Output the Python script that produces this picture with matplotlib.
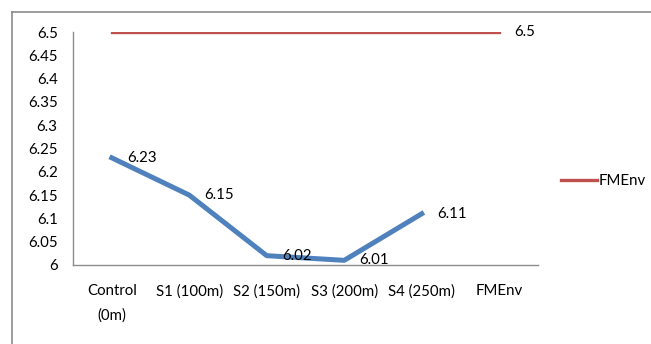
import matplotlib.pyplot as plt
from matplotlib.lines import Line2D

sites = ["Control\n(0m)", "S1 (100m)", "S2 (150m)", "S3 (200m)", "S4 (250m)", "FMEnv"]
site_ph = [6.23, 6.15, 6.02, 6.01, 6.11]
fmenv_limit = [6.5, 6.5, 6.5, 6.5, 6.5, 6.5]
y_ticks = [6, 6.05, 6.1, 6.15, 6.2, 6.25, 6.3, 6.35, 6.4, 6.45, 6.5]

plt.rcParams["font.family"] = ["Lato", "DejaVu Sans"]
FS = 10.8

fig = plt.figure(figsize=(6.51, 3.44), dpi=100)
W, H = 651, 344
ax = fig.add_axes([73 / W, 1 - 265 / H, 465 / W, 233 / H])

x = list(range(len(sites)))
ax.plot(x[:len(site_ph)], site_ph, color="#4F81BD", lw=3.6, solid_joinstyle="round")
ax.plot(x, fmenv_limit, color="#C0504D", lw=2.4, label="FMEnv")

# data labels to the right of each point
for xi, v in zip(x, site_ph):
    ax.annotate(f"{v:g}", (xi, v), xytext=(11, 0), textcoords="offset points",
                ha="left", va="center", fontsize=FS)
ax.annotate(f"{fmenv_limit[-1]:g}", (x[-1], fmenv_limit[-1]), xytext=(11, 0),
            textcoords="offset points", ha="left", va="center", fontsize=FS)

ax.set_xlim(-0.5, len(sites) - 0.5)
ax.set_ylim(6, 6.5)
ax.set_yticks(y_ticks)
ax.set_yticklabels([f"{t:g}" for t in y_ticks], fontsize=FS)
ax.set_xticks(x)
ax.set_xticklabels(sites, fontsize=FS, linespacing=1.9, va="top")
ax.tick_params(axis="y", length=0, pad=11)
ax.tick_params(axis="x", length=0, pad=14)
for s in ("top", "right"):
    ax.spines[s].set_visible(False)
for s in ("left", "bottom"):
    ax.spines[s].set_color("#8C8C8C")
    ax.spines[s].set_linewidth(1.0)

ax.legend(loc="center left", bbox_to_anchor=(561 / W, 1 - 181 / H),
          bbox_transform=fig.transFigure, frameon=False, fontsize=FS,
          handlelength=2.4, handletextpad=0.1, borderpad=0, borderaxespad=0)

# chart area border (left and top edges)
fig.add_artist(Line2D([11.5 / W, 11.5 / W], [0, 1 - 11.5 / H], color="#8C8C8C",
                      lw=1.2, transform=fig.transFigure))
fig.add_artist(Line2D([11.5 / W, 1], [1 - 11.5 / H, 1 - 11.5 / H], color="#8C8C8C",
                      lw=1.2, transform=fig.transFigure))

fig.savefig("out.png", dpi=100)
